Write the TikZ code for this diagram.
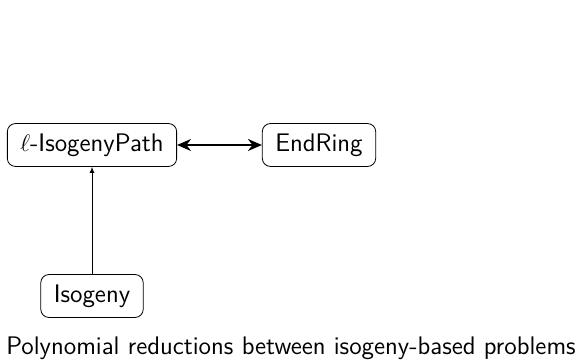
\documentclass[tikz,border=0pt]{standalone}
\usepackage{tikz}
\usetikzlibrary{arrows.meta}

\begin{document}
\begin{tikzpicture}
[pb/.style={draw,rounded corners=4pt,inner xsep=6.5pt,inner ysep=5pt,line width=0.4pt}
,red/.style={draw=black,arrows={-Latex[length=3pt,width=2.4pt]}}
,eq/.style={draw=black,line width=1pt,arrows={Stealth[length=7pt,width=6pt]-Stealth[length=7pt,width=6pt]}}
,x=0.5pt,y=-0.5pt,font=\sffamily\fontsize{12.7}{15}\selectfont]
\useasboundingbox (0,0) rectangle (582,363);
\node[pb] (path) at (92,145) {$\ell$-IsogenyPath};
\node[pb] (end) at (319,145) {EndRing};
\node[pb] (iso) at (92,296) {Isogeny};
\node (cap) at (291,348) {Polynomial reductions between isogeny-based problems};
\draw[eq] (path) -- (end);
\draw[red] (iso) -- (path);
\end{tikzpicture}
\end{document}
